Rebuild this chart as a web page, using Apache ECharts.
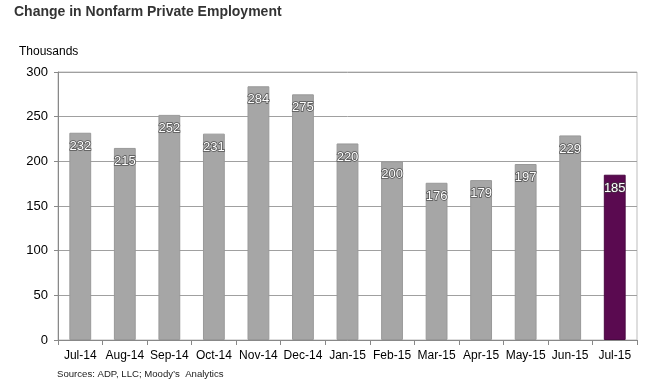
<!DOCTYPE html>
<html><head><meta charset="utf-8">
<script src="https://cdn.jsdelivr.net/npm/echarts@6/dist/echarts.min.js"></script>
<style>html,body{margin:0;padding:0;background:#fff}#c{width:671px;height:388px}</style>
</head><body><div id="c"></div>
<script>
var categories = ['Jul-14','Aug-14','Sep-14','Oct-14','Nov-14','Dec-14','Jan-15','Feb-15','Mar-15','Apr-15','May-15','Jun-15','Jul-15'];
var values = [232,215,252,231,284,275,220,200,176,179,197,229,185];
var yTicks = [0,50,100,150,200,250,300];
var highlightIndex = 12;

var chart = echarts.init(document.getElementById('c'), null, {renderer:'canvas'});
chart.setOption({
  animation:false,
  backgroundColor:'#fff',
  graphic:[
    {type:'text', left:14, top:5, style:{text:'Change in Nonfarm Private Employment', font:'bold 14px Arial, "Liberation Sans", sans-serif', fill:'#333'}},
    {type:'text', left:19, top:46, style:{text:'Thousands', font:'12px Arial, "Liberation Sans", sans-serif', fill:'#000'}},
    {type:'text', left:57, top:369, style:{text:'Sources: ADP, LLC; Moody\u2019s  Analytics', font:'9.6px Arial, "Liberation Sans", sans-serif', fill:'#222'}},
    {type:'rect', shape:{x:58, y:72, width:579, height:268}, style:{fill:'none', stroke:'#bdbdbd', lineWidth:1}, z:-1}
  ],
  grid:{left:58, right:34, top:72, bottom:48, containLabel:false},
  xAxis:{
    type:'category', data:categories, boundaryGap:true,
    axisLine:{lineStyle:{color:'#888'}},
    axisTick:{show:true, alignWithLabel:false, length:5, lineStyle:{color:'#888'}},
    axisLabel:{color:'#000', fontSize:12, fontFamily:'Arial, "Liberation Sans", sans-serif', margin:10, interval:0}
  },
  yAxis:{
    type:'value', min:0, max:300, interval:50,
    axisLine:{show:true, lineStyle:{color:'#888'}},
    axisTick:{show:true, length:4, lineStyle:{color:'#888'}},
    splitLine:{lineStyle:{color:'#a0a0a0'}},
    axisLabel:{color:'#000', fontSize:13, fontFamily:'Arial, "Liberation Sans", sans-serif', margin:10,
      formatter:function(v){return yTicks.indexOf(v)>=0?String(v):'';}}
  },
  series:[{
    type:'bar', barWidth:'49%',
    data: values.map(function(v,i){
      return {value:v, itemStyle:{color: i===highlightIndex?'#5a0a50':'#a6a6a6', borderColor: i===highlightIndex?'#4a0842':'#999', borderWidth:1}};
    }),
    label:{show:true, position:'insideTop', offset:[0,2], color:'#fff', fontSize:13, fontFamily:'Arial, "Liberation Sans", sans-serif',
      textBorderColor:'rgba(60,60,60,0.8)', textBorderWidth:1.5}
  }]
});
</script></body></html>
